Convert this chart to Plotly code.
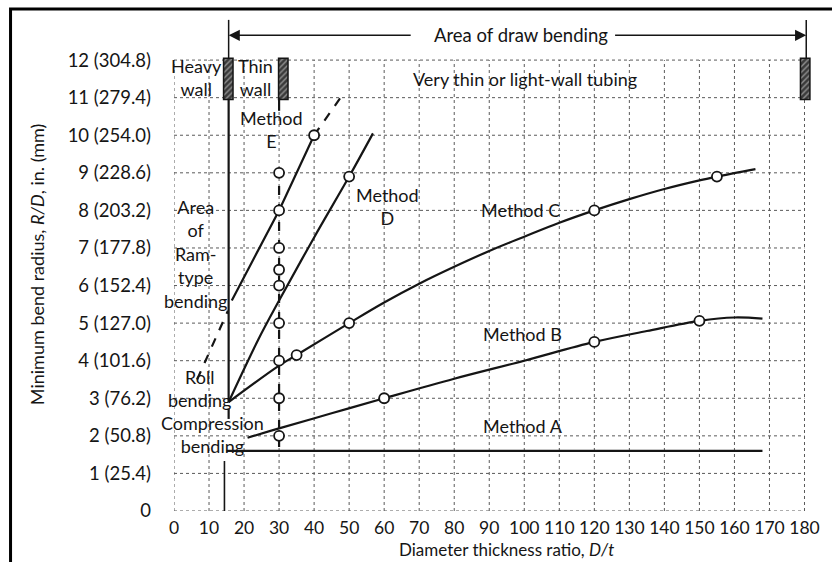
import plotly.graph_objects as go

# ---------------- data ----------------
x_ticks = list(range(0, 181, 10))
y_ticks = list(range(0, 13))
y_tick_labels = ["0", "1 (25.4)", "2 (50.8)", "3 (76.2)", "4 (101.6)", "5 (127.0)",
                 "6 (152.4)", "7 (177.8)", "8 (203.2)", "9 (228.6)", "10 (254.0)",
                 "11 (279.4)", "12 (304.8)"]

method_a_x = [15, 168]
method_a_y = [1.6, 1.6]

method_b_x = [21, 30, 45, 60, 80, 100, 120, 135, 150, 160, 168]
method_b_y = [1.95, 2.2, 2.6, 3.0, 3.52, 4.0, 4.5, 4.79, 5.06, 5.15, 5.12]
method_b_pts_x = [60, 120, 150]
method_b_pts_y = [3.0, 4.5, 5.06]

method_c_x = [15.6, 30, 35, 50, 60, 70, 80, 90, 100, 110, 120, 130, 140, 150, 155, 166]
method_c_y = [2.9, 3.87, 4.15, 5.0, 5.55, 6.05, 6.5, 6.92, 7.3, 7.67, 8.0, 8.3, 8.57, 8.8, 8.9, 9.1]
method_c_pts_x = [35, 50, 120, 155]
method_c_pts_y = [4.15, 5.0, 8.0, 8.9]

method_d_x = [15.6, 24, 30, 40, 50, 56.8]
method_d_y = [2.9, 4.55, 5.6, 7.28, 8.9, 10.05]
method_d_pts_x = [50]
method_d_pts_y = [8.9]

method_e_x = [16.5, 30, 40]
method_e_y = [5.6, 8.0, 10.0]
method_e_ext_x = [40, 48.3]
method_e_ext_y = [10.0, 11.1]
method_e_pts_x = [40]
method_e_pts_y = [10.0]

ram_x = [6.6, 15.4]
ram_y = [3.5, 5.33]

thin_wall_x = [30, 30]
thin_wall_y = [1.7, 9.3]
thin_wall_top_y = [10.65, 11.0]
thin_wall_pts_y = [2.0, 3.0, 4.0, 5.0, 6.0, 6.42, 7.0, 8.0, 9.0]

heavy_wall_x = [15.6, 15.6]
heavy_wall_y = [2.9, 10.95]
heavy_wall_dash_y = [2.73, 2.45]
compression_x = [14.4, 14.4]
compression_y = [0, 1.33]

wall_marker_x = [15.5, 31.2, 180.2]
wall_marker_base = [10.95, 10.95, 10.95]
wall_marker_height = [1.1, 1.1, 1.1]

draw_area_x = [15.6, 180.5]
draw_area_y = 12.66
draw_area_text_gap = [68, 125.5]

FONT = "Lato"
INK = "#151515"
LABEL_SIZE = 18

fig = go.Figure()

# grid (dotted), built from tick arrays
shapes = []
for xv in x_ticks:
    shapes.append(dict(type="line", xref="x", yref="y", x0=xv, x1=xv, y0=0, y1=12,
                       line=dict(color="#5a5a5a", width=1, dash="dot"), layer="below"))
for yv in y_ticks:
    shapes.append(dict(type="line", xref="x", yref="y", x0=0, x1=180, y0=yv, y1=yv,
                       line=dict(color="#5a5a5a", width=1, dash="dot"), layer="below"))
# outer frame (cropped at right and bottom, as in the source)
shapes.append(dict(type="rect", xref="paper", yref="paper", x0=-0.255, x1=1.035, y0=-0.119, y1=1.012,
                   line=dict(color="black", width=3), fillcolor="rgba(0,0,0,0)"))
# top vertical ticks of draw-bending area
for xv in draw_area_x:
    shapes.append(dict(type="line", xref="x", yref="y", x0=xv, x1=xv, y0=12.05, y1=13.07,
                       line=dict(color=INK, width=1.5)))


def add_line(x, y, dash=None, width=2.2, shape="linear"):
    fig.add_trace(go.Scatter(x=x, y=y, mode="lines",
                             line=dict(color=INK, width=width, dash=dash, shape=shape),
                             hoverinfo="skip", showlegend=False))


def add_pts(x, y):
    fig.add_trace(go.Scatter(x=x, y=y, mode="markers",
                             marker=dict(symbol="circle", size=10, color="white",
                                         line=dict(color=INK, width=1.8)),
                             hoverinfo="skip", showlegend=False, cliponaxis=False))


add_line(method_a_x, method_a_y)
add_line(method_b_x, method_b_y, shape="spline")
add_line(method_c_x, method_c_y, shape="spline")
add_line(method_d_x, method_d_y, shape="spline")
add_line(method_e_x, method_e_y)
add_line(method_e_ext_x, method_e_ext_y, dash="dash")
add_line(ram_x, ram_y, dash="dash")
add_line(thin_wall_x, thin_wall_y, dash="dash")
add_line([30, 30], thin_wall_top_y)
add_line(heavy_wall_x, heavy_wall_y)
add_line(heavy_wall_x, heavy_wall_dash_y)
add_line(compression_x, compression_y, width=1.6)

add_pts([30] * len(thin_wall_pts_y), thin_wall_pts_y)
add_pts(method_b_pts_x, method_b_pts_y)
add_pts(method_c_pts_x, method_c_pts_y)
add_pts(method_d_pts_x, method_d_pts_y)
add_pts(method_e_pts_x, method_e_pts_y)

# hatched wall markers
fig.add_trace(go.Bar(x=wall_marker_x, y=wall_marker_height, base=wall_marker_base, width=2.7,
                     marker=dict(color="#3a3a3a", line=dict(color=INK, width=1.5),
                                 pattern=dict(shape="/", fgcolor="#e8e8e8", bgcolor="#3a3a3a",
                                              size=4, solidity=0.35)),
                     hoverinfo="skip", showlegend=False))

annotations = []


def label(x, y, text, size=LABEL_SIZE, xanchor="center", align="center"):
    annotations.append(dict(x=x, y=y, xref="x", yref="y", text=text, showarrow=False,
                            font=dict(family=FONT, size=size, color=INK),
                            xanchor=xanchor, yanchor="middle", align=align))


label(27.7, 10.15, "Method<br>E")
label(61, 8.1, "Method<br>D")
label(99, 8.0, "Method C")
label(99.4, 4.7, "Method B")
label(99.7, 2.25, "Method A")
label(6.0, 6.85, "Area<br>of<br>Ram-<br>type<br>bending")
label(7.3, 3.27, "Roll<br>bending")
label(11, 2.03, "Compression<br>bending")
label(6.4, 11.55, "Heavy<br>wall")
label(23.4, 11.55, "Thin<br>wall")
label(100.3, 11.5, "Very thin or light-wall tubing")
label(99.2, draw_area_y, "Area of draw bending", size=18.5)

# arrows
annotations.append(dict(x=draw_area_x[0], y=draw_area_y, ax=draw_area_text_gap[0], ay=draw_area_y,
                        xref="x", yref="y", axref="x", ayref="y", text="", showarrow=True,
                        arrowhead=2, arrowsize=1.6, arrowwidth=1.4, arrowcolor=INK))
annotations.append(dict(x=draw_area_x[1], y=draw_area_y, ax=draw_area_text_gap[1], ay=draw_area_y,
                        xref="x", yref="y", axref="x", ayref="y", text="", showarrow=True,
                        arrowhead=2, arrowsize=1.6, arrowwidth=1.4, arrowcolor=INK))

# axis titles
annotations.append(dict(x=-0.2135, y=0.498, xref="paper", yref="paper",
                        xanchor="center", yanchor="middle",
                        text="Minimum bend radius, <i>R/D</i>, in. (mm)", textangle=-90,
                        showarrow=False, font=dict(family=FONT, size=18, color=INK)))
annotations.append(dict(x=0.518, y=-0.078, xref="paper", yref="paper",
                        xanchor="center", yanchor="middle",
                        text="Diameter thickness ratio, <i>D/t</i>",
                        showarrow=False, font=dict(family=FONT, size=17, color=INK)))

fig.update_layout(
    width=832, height=562,
    margin=dict(l=174, r=15, t=15, b=51),
    paper_bgcolor="white", plot_bgcolor="white",
    shapes=shapes, annotations=annotations,
    showlegend=False, barmode="overlay",
    xaxis=dict(range=[0, 183], tickvals=x_ticks, ticktext=[str(v) for v in x_ticks],
               showgrid=False, zeroline=False, showline=False, ticks="",
               tickfont=dict(family=FONT, size=17.5, color=INK), ticklabelstandoff=4),
    yaxis=dict(range=[0, 13.2], tickvals=y_ticks, ticktext=y_tick_labels,
               showgrid=False, zeroline=False, showline=False, ticks="",
               tickfont=dict(family=FONT, size=18.5, color=INK), ticklabelstandoff=22),
)

fig.write_html("out.html")
